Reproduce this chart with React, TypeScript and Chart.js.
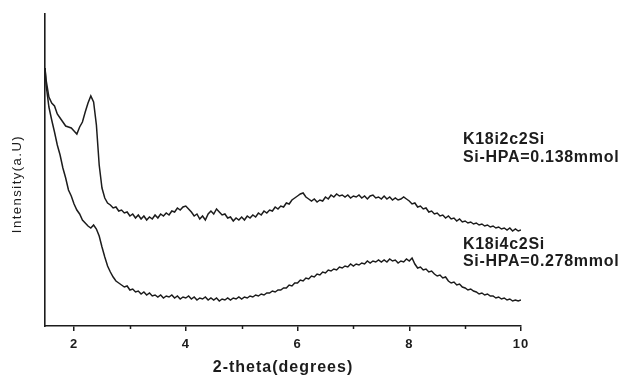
import React, { useEffect, useRef } from "react";
import { Chart, registerables } from "chart.js";

Chart.register(...registerables);

const twoTheta: number[] = [
  1.48, 1.5, 1.55, 1.6, 1.65, 1.7, 1.75, 1.8, 1.85, 1.9, 1.95,
  2.0, 2.05, 2.1, 2.15, 2.2, 2.25, 2.3, 2.35, 2.4, 2.45, 2.5, 2.55, 2.6, 2.65, 2.7, 2.75, 2.8, 2.85, 2.9, 2.95,
  3.0, 3.05, 3.1, 3.15, 3.2, 3.25, 3.3, 3.35, 3.4, 3.45, 3.5, 3.55, 3.6, 3.65, 3.7, 3.75, 3.8, 3.85, 3.9, 3.95,
  4.0, 4.05, 4.1, 4.15, 4.2, 4.25, 4.3, 4.35, 4.4, 4.45, 4.5, 4.55, 4.6, 4.65, 4.7, 4.75, 4.8, 4.85, 4.9, 4.95,
  5.0, 5.05, 5.1, 5.15, 5.2, 5.25, 5.3, 5.35, 5.4, 5.45, 5.5, 5.55, 5.6, 5.65, 5.7, 5.75, 5.8, 5.85, 5.9, 5.95,
  6.0, 6.05, 6.1, 6.15, 6.2, 6.25, 6.3, 6.35, 6.4, 6.45, 6.5, 6.55, 6.6, 6.65, 6.7, 6.75, 6.8, 6.85, 6.9, 6.95,
  7.0, 7.05, 7.1, 7.15, 7.2, 7.25, 7.3, 7.35, 7.4, 7.45, 7.5, 7.55, 7.6, 7.65, 7.7, 7.75, 7.8, 7.85, 7.9, 7.95,
  8.0, 8.05, 8.1, 8.15, 8.2, 8.25, 8.3, 8.35, 8.4, 8.45, 8.5, 8.55, 8.6, 8.65, 8.7, 8.75, 8.8, 8.85, 8.9, 8.95,
  9.0, 9.05, 9.1, 9.15, 9.2, 9.25, 9.3, 9.35, 9.4, 9.45, 9.5, 9.55, 9.6, 9.65, 9.7, 9.75, 9.8, 9.85, 9.9, 9.95,
  10.0,
];

// K18i2c2Si, Si-HPA=0.138mmol
const intensityI2: number[] = [
  258, 246, 229, 223, 220, 212, 208, 204, 200, 199, 198,
  195, 192, 199, 204, 214, 223, 230, 224, 201, 161, 138, 128, 123, 121, 118, 119, 115, 116, 113, 114,
  110, 112, 108, 111, 107, 110, 106, 109, 107, 111, 108, 112, 110, 113, 111, 115, 114, 118, 116, 119,
  120, 117, 114, 110, 112, 107, 110, 106, 112, 115, 112, 117, 114, 111, 112, 108, 109, 105, 108, 106,
  109, 106, 110, 108, 111, 109, 113, 111, 115, 113, 116, 115, 119, 117, 120, 119, 123, 122, 126, 128,
  130, 132, 133, 129, 127, 125, 127, 124, 126, 125, 129, 127, 131, 129, 132, 130, 131, 129, 131, 128,
  130, 129, 131, 128, 130, 127, 130, 131, 128, 129, 127, 130, 127, 129, 126, 128, 126, 127, 129, 127,
  125, 122, 123, 119, 120, 117, 118, 114, 115, 112, 113, 110, 111, 108, 110, 107, 108, 105, 107, 104,
  105, 103, 104, 102, 103, 101, 102, 100, 101, 99, 100, 98, 99, 97, 98, 96, 98, 95, 97, 95,
  96,
];

// K18i4c2Si, Si-HPA=0.278mmol
const intensityI4: number[] = [
  258, 241, 219, 206, 194, 181, 171, 158, 148, 136, 130,
  122, 116, 112, 106, 103, 100, 98, 101, 97, 90, 79, 69, 60, 54, 49, 45, 43, 41, 39, 40,
  36, 37, 34, 35, 32, 34, 31, 33, 30, 31, 29, 31, 28, 30, 29, 31, 28, 30, 27, 29,
  28, 30, 27, 29, 26, 28, 27, 29, 26, 28, 26, 28, 25, 27, 26, 28, 26, 28, 27, 29,
  27, 29, 28, 30, 29, 31, 30, 32, 31, 33, 33, 35, 34, 36, 36, 38, 38, 41, 40, 43,
  43, 46, 45, 48, 47, 50, 49, 52, 51, 54, 53, 56, 55, 57, 56, 59, 58, 60, 59, 62,
  60, 62, 61, 63, 62, 65, 63, 65, 64, 66, 64, 66, 64, 67, 65, 66, 63, 65, 64, 67,
  65, 68, 62, 58, 59, 56, 57, 54, 55, 52, 50, 51, 48, 49, 45, 43, 44, 41, 42, 39,
  38, 36, 37, 35, 34, 32, 33, 31, 32, 30, 30, 28, 29, 27, 28, 26, 27, 25, 26, 25,
  26,
];

const xTickValues: number[] = [2, 3, 4, 5, 6, 7, 8, 9, 10];
const sampleLabels: string[][] = [
  ["K18i2c2Si", "Si-HPA=0.138mmol"],
  ["K18i4c2Si", "Si-HPA=0.278mmol"],
];
const yTitle = "Intensity(a.U)";
const xTitle = "2-theta(degrees)";

const INK = "#1c1c1c";

const textPlugin = {
  id: "xrdText",
  beforeDraw(chart: any) {
    chart.ctx.letterSpacing = "1px";
  },
  afterDraw(chart: any) {
    const ctx = chart.ctx;
    const xs = chart.scales.x;
    const area = chart.chartArea;
    ctx.save();
    // minor tick marks
    ctx.strokeStyle = INK;
    ctx.lineWidth = 1.5;
    xTickValues.forEach((v) => {
      if (v % 2 === 1) {
        const px = Math.round(xs.getPixelForValue(v)) + 0.5;
        ctx.beginPath();
        ctx.moveTo(px, area.bottom);
        ctx.lineTo(px, area.bottom + 3);
        ctx.stroke();
      }
    });
    // sample annotations
    ctx.fillStyle = INK;
    ctx.font = "bold 16px 'Liberation Sans', Arial, sans-serif";
    ctx.letterSpacing = "0.7px";
    ctx.textAlign = "left";
    ctx.textBaseline = "middle";
    ctx.fillText(sampleLabels[0][0], 463, 140);
    ctx.fillText(sampleLabels[0][1], 463, 158);
    ctx.fillText(sampleLabels[1][0], 463, 245);
    ctx.fillText(sampleLabels[1][1], 463, 262);
    // y title
    ctx.font = "13px 'Liberation Sans', Arial, sans-serif";
    ctx.letterSpacing = "1.5px";
    ctx.translate(17, 184);
    ctx.rotate(-Math.PI / 2);
    ctx.textAlign = "center";
    ctx.fillText(yTitle, 0, 0);
    ctx.restore();
  },
};

export default function App() {
  const canvasRef = useRef<HTMLCanvasElement | null>(null);

  useEffect(() => {
    if (!canvasRef.current) return;
    const chart = new Chart(canvasRef.current, {
      type: "line",
      data: {
        datasets: [
          {
            label: sampleLabels[0].join(" "),
            data: twoTheta.map((x, i) => ({ x, y: intensityI2[i] })),
            borderColor: INK,
            borderWidth: 1.5,
            pointRadius: 0,
            tension: 0,
            fill: false,
          },
          {
            label: sampleLabels[1].join(" "),
            data: twoTheta.map((x, i) => ({ x, y: intensityI4[i] })),
            borderColor: INK,
            borderWidth: 1.5,
            pointRadius: 0,
            tension: 0,
            fill: false,
          },
        ],
      },
      options: {
        responsive: false,
        animation: false,
        layout: { padding: { left: 45, right: 107, top: 14, bottom: 0 } },
        plugins: {
          legend: { display: false },
          tooltip: { enabled: false },
          title: { display: false },
        },
        scales: {
          x: {
            type: "linear",
            min: 1.48,
            max: 10,
            afterBuildTicks: (s: any) => {
              s.ticks = xTickValues.map((v) => ({ value: v }));
            },
            afterFit: (s: any) => {
              s.height = 51;
            },
            border: { display: true, color: INK, width: 1.6 },
            grid: {
              display: true,
              drawOnChartArea: false,
              drawTicks: true,
              tickLength: 5,
              lineWidth: 1.5,
              tickColor: (c: any) =>
                c.tick && c.tick.value % 2 === 0 ? INK : "rgba(0,0,0,0)",
            },
            ticks: {
              autoSkip: false,
              maxRotation: 0,
              padding: 6,
              color: INK,
              font: { family: "'Liberation Sans', Arial, sans-serif", size: 13, weight: "bold" },
              callback: (v: any) => (Number(v) % 2 === 0 ? String(v) : ""),
            },
            title: {
              display: true,
              text: xTitle,
              color: INK,
              padding: { top: 0, bottom: 0 },
              font: { family: "'Liberation Sans', Arial, sans-serif", size: 16, weight: "bold" },
            },
          },
          y: {
            min: 0,
            max: 312,
            display: true,
            afterFit: (s: any) => {
              s.width = 0;
            },
            border: { display: true, color: INK, width: 1.6 },
            grid: { display: false, drawTicks: false },
            ticks: { display: false },
          },
        },
      },
      plugins: [textPlugin],
    } as any);
    return () => chart.destroy();
  }, []);

  return (
    <div style={{ position: "fixed", left: 0, top: 0, width: 628, height: 377, background: "#fff" }}>
      <canvas ref={canvasRef} width={628} height={377} />
    </div>
  );
}
